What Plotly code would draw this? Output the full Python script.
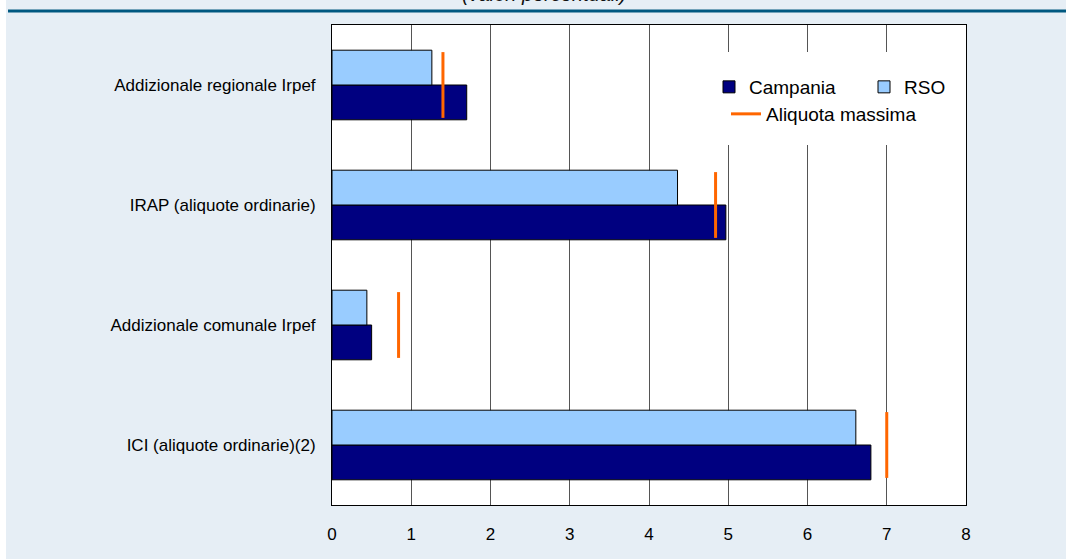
import plotly.graph_objects as go

categories = [
    "Addizionale regionale Irpef",
    "IRAP (aliquote ordinarie)",
    "Addizionale comunale Irpef",
    "ICI (aliquote ordinarie)(2)",
]
campania = [1.70, 4.97, 0.50, 6.80]
rso = [1.26, 4.36, 0.44, 6.61]
aliquota_massima = [1.40, 4.84, 0.84, 7.00]
x_ticks = [0, 1, 2, 3, 4, 5, 6, 7, 8]

FONT = "Liberation Sans, Arial, sans-serif"
BG = "#E6EEF5"

fig = go.Figure()
fig.add_trace(go.Bar(
    y=categories, x=campania, orientation="h", name="Campania",
    marker=dict(color="#000080", line=dict(color="black", width=1)),
    legend="legend",
))
fig.add_trace(go.Bar(
    y=categories, x=rso, orientation="h", name="RSO",
    marker=dict(color="#99CCFF", line=dict(color="black", width=1)),
    legend="legend",
))
fig.add_trace(go.Scatter(
    y=categories, x=aliquota_massima, mode="markers", showlegend=False,
    marker=dict(symbol="line-ns", size=47, color="#FF6600",
                line=dict(color="#FF6600", width=3)),
))
fig.add_trace(go.Scatter(
    y=[None], x=[None], mode="lines", name="Aliquota massima",
    line=dict(color="#FF6600", width=3), legend="legend2",
))

W, H = 1066, 559
L, R, T, B = 332, 100, 25, 54
pw, ph = W - L - R, H - T - B

def px(x):
    return (x - L) / pw

def py(y):
    return (H - B - y) / ph

fig.update_layout(
    width=W, height=H,
    margin=dict(l=L, r=R, t=T, b=B, pad=0),
    paper_bgcolor=BG, plot_bgcolor="white",
    font=dict(family=FONT, size=17, color="black"),
    barmode="group", bargap=0.42, bargroupgap=0,
    showlegend=True,
    legend=dict(
        orientation="h", x=px(709), y=py(68), xanchor="left", yanchor="top",
        bgcolor="rgba(0,0,0,0)", font=dict(size=19),
        entrywidth=110, entrywidthmode="pixels", itemclick=False,
    ),
    legend2=dict(
        orientation="h", x=px(726), y=py(95), xanchor="left", yanchor="top",
        bgcolor="rgba(0,0,0,0)", font=dict(size=19), itemclick=False,
    ),
    xaxis=dict(
        range=[0, 8], tickvals=x_ticks, ticktext=[str(v) for v in x_ticks],
        showgrid=True, gridcolor="#555555", gridwidth=1,
        showline=True, linecolor="black", linewidth=1, mirror=True,
        ticks="", ticklabelstandoff=14, zeroline=False,
        tickfont=dict(size=17),
    ),
    yaxis=dict(
        categoryorder="array", categoryarray=list(reversed(categories)),
        showline=True, linecolor="black", linewidth=1, mirror=True,
        ticks="", ticklabelstandoff=12, showgrid=False,
        tickfont=dict(size=17),
    ),
    shapes=[
        dict(type="rect", xref="paper", yref="paper", layer="above",
             x0=px(700), x1=px(950), y0=py(145), y1=py(52),
             fillcolor="white", line=dict(width=0)),
        dict(type="rect", xref="paper", yref="paper",
             x0=px(-20), x1=px(6), y0=py(600), y1=py(-20),
             fillcolor="white", line=dict(width=0)),
        dict(type="line", xref="paper", yref="paper",
             x0=px(8), x1=px(1080), y0=py(11), y1=py(11),
             line=dict(color="#005880", width=3)),
    ],
    annotations=[
        dict(text="<i>(valori percentuali)</i>", xref="paper", yref="paper",
             x=px(544), y=py(7), xanchor="center", yanchor="bottom",
             showarrow=False, font=dict(size=20, color="#111111")),
    ],
)

fig.write_html("out.html")
